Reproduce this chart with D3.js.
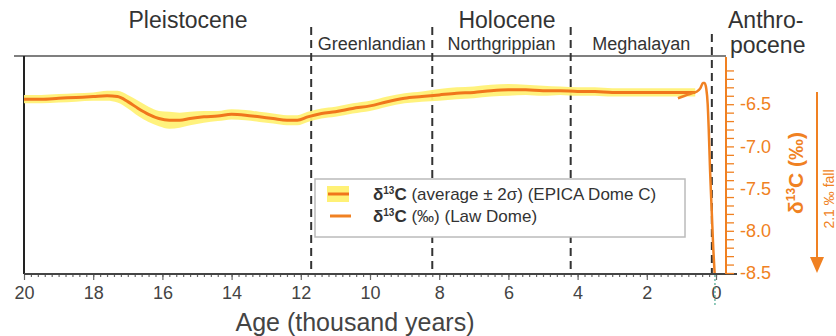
<!DOCTYPE html>
<meta charset="utf-8">
<style>
body { margin: 0; background: #fff; }
svg { font-family: "Liberation Sans", Arial, sans-serif; }
</style>
<body>
<script src="https://cdn.jsdelivr.net/npm/d3@7"></script>
<script>
// EPICA Dome C d13C, average and 2 sigma half width (permil)
var epicaAge = [20, 19.5, 19, 18.5, 18, 17.6, 17.3, 17, 16.7, 16.4, 16.1, 15.8, 15.5, 15.2, 14.8, 14.4, 14, 13.6, 13.2, 12.8, 12.4, 12.1, 11.8, 11.4, 11, 10.5, 10, 9.5, 9, 8.5, 8, 7.5, 7, 6.5, 6, 5.5, 5, 4.5, 4, 3.5, 3, 2.5, 2, 1.5, 1, 0.6];
var epicaMean = [-6.44, -6.44, -6.43, -6.42, -6.41, -6.40, -6.41, -6.47, -6.55, -6.62, -6.67, -6.69, -6.69, -6.67, -6.65, -6.64, -6.62, -6.63, -6.65, -6.67, -6.69, -6.69, -6.65, -6.61, -6.59, -6.55, -6.52, -6.47, -6.43, -6.41, -6.39, -6.37, -6.36, -6.34, -6.33, -6.33, -6.34, -6.34, -6.35, -6.35, -6.36, -6.36, -6.36, -6.36, -6.36, -6.36];
var epicaSigma = [0.05, 0.05, 0.05, 0.05, 0.05, 0.06, 0.07, 0.08, 0.09, 0.09, 0.09, 0.1, 0.09, 0.08, 0.07, 0.06, 0.06, 0.06, 0.06, 0.06, 0.06, 0.06, 0.06, 0.06, 0.06, 0.06, 0.06, 0.06, 0.06, 0.06, 0.07, 0.07, 0.07, 0.07, 0.07, 0.06, 0.06, 0.05, 0.05, 0.05, 0.05, 0.05, 0.05, 0.05, 0.05, 0.05];

// Law Dome d13C
var lawAge = [1.1, 0.9, 0.7, 0.55, 0.45, 0.38, 0.33, 0.28, 0.24, 0.21, 0.17, 0.12, 0.08, 0.04];
var lawVal = [-6.43, -6.40, -6.37, -6.35, -6.31, -6.25, -6.25, -6.32, -6.5, -6.8, -7.3, -7.8, -8.2, -8.5];

// boundaries (thousand years)
var boundaries = [11.7, 8.2, 4.2, 0.12];
var stageNames = ["Greenlandian", "Northgrippian", "Meghalayan"];
var xTickLabels = [20, 18, 16, 14, 12, 10, 8, 6, 4, 2, 0];
var yTickLabels = [-6.5, -7.0, -7.5, -8.0, -8.5];

var orange = "#f08122", grey = "#444";

var svg = d3.select("body").append("svg")
    .attr("width", 836)
    .attr("height", 336);

var x = d3.scaleLinear().domain([20, 0]).range([24, 716]);
var y = d3.scaleLinear().domain([-8.5, -6]).range([273, 62]);

var epica = epicaAge.map(function(a, i) {
  return {age: a, mean: epicaMean[i], s: epicaSigma[i]};
});
var law = lawAge.map(function(a, i) { return {age: a, v: lawVal[i]}; });

// frame: top line, left axis
svg.append("line").attr("x1", 14).attr("x2", 726).attr("y1", 56).attr("y2", 56)
  .style("stroke", "#555").style("stroke-width", 1.5);
svg.append("line").attr("x1", 24).attr("x2", 24).attr("y1", 56).attr("y2", 274)
  .style("stroke", "#222").style("stroke-width", 2);

// dashed boundaries
svg.selectAll(".bound").data(boundaries).enter().append("line")
  .attr("class", "bound")
  .attr("x1", function(d) { return x(d); })
  .attr("x2", function(d) { return x(d); })
  .attr("y1", function(d, i) { return i == 3 ? 34 : 27; })
  .attr("y2", 274)
  .style("stroke", "#333").style("stroke-width", 2)
  .style("stroke-dasharray", "8,5");

// band
var area = d3.area()
  .x(function(d) { return x(d.age); })
  .y0(function(d) { return y(d.mean - d.s); })
  .y1(function(d) { return y(d.mean + d.s); })
  .curve(d3.curveMonotoneX);
svg.append("path").datum(epica)
  .attr("d", area)
  .style("fill", "#fff176").style("opacity", 0.95);

var meanLine = d3.line()
  .x(function(d) { return x(d.age); })
  .y(function(d) { return y(d.mean); })
  .curve(d3.curveMonotoneX);
svg.append("path").datum(epica)
  .attr("d", meanLine)
  .style("fill", "none").style("stroke", "#f0761c").style("stroke-width", 3);

var lawLine = d3.line()
  .x(function(d) { return x(d.age); })
  .y(function(d) { return y(d.v); })
  .curve(d3.curveMonotoneX);
svg.append("path").datum(law)
  .attr("d", lawLine)
  .style("fill", "none").style("stroke", orange).style("stroke-width", 2.5);

// bottom axis: minor ticks then labelled ticks
var minor = d3.range(0, 100).map(function(i) { return +(i * 0.2).toFixed(1); });
var gMinor = svg.append("g").attr("transform", "translate(0,274)")
  .call(d3.axisBottom(x).tickValues(minor).tickSize(3).tickFormat(""));
var gMajor = svg.append("g").attr("transform", "translate(0,274)")
  .call(d3.axisBottom(x).tickValues(xTickLabels).tickSize(6).tickPadding(6));
[gMinor, gMajor].forEach(function(g) {
  g.select(".domain").remove();
  g.selectAll("line").style("stroke", "#666").style("stroke-width", 1.2);
});
gMajor.selectAll("text").style("font-size", "18px").style("fill", grey)
  .style("font-family", "Liberation Sans, Arial, sans-serif");
svg.append("line").attr("x1", 24).attr("x2", 737).attr("y1", 274).attr("y2", 274)
  .style("stroke", "#444").style("stroke-width", 2);

// small dotted marker below zero
svg.append("line").attr("x1", x(0.03)).attr("x2", x(0.03)).attr("y1", 275).attr("y2", 306)
  .style("stroke", "#4aa890").style("stroke-width", 1.2).style("stroke-dasharray", "2,2");

svg.append("text").attr("x", 355).attr("y", 331)
  .style("text-anchor", "middle").style("font-size", "25px").style("fill", grey)
  .text("Age (thousand years)");

// right axis
var yMinor = d3.range(0, 25).map(function(i) { return +(-8.5 + i * 0.1).toFixed(1); });
var gy = svg.append("g").attr("transform", "translate(726,0)")
  .call(d3.axisRight(y).tickValues(yMinor).tickSize(8).tickPadding(6)
    .tickFormat(function(d) { return yTickLabels.indexOf(d) >= 0 ? d3.format(".1f")(d).replace("\u2212", "-") : ""; }));
gy.select(".domain").remove();
gy.selectAll("line").style("stroke", orange).style("stroke-width", 1.3);
gy.selectAll("text").style("font-size", "18px").style("fill", orange)
  .style("font-family", "Liberation Sans, Arial, sans-serif");
svg.append("line").attr("x1", 726).attr("x2", 726).attr("y1", 57).attr("y2", 274)
  .style("stroke", orange).style("stroke-width", 2);

var yt = svg.append("text")
  .attr("transform", "translate(803,173) rotate(-90)")
  .style("text-anchor", "middle").style("font-size", "21px").style("font-weight", "bold")
  .style("fill", orange);
yt.append("tspan").text("\u03b4");
yt.append("tspan").attr("dy", -8).style("font-size", "12px").text("13");
yt.append("tspan").attr("dy", 8).text("C (\u2030)");

// fall arrow
svg.append("line").attr("x1", 817).attr("x2", 817).attr("y1", 92).attr("y2", 260)
  .style("stroke", orange).style("stroke-width", 2);
svg.append("path").attr("d", "M810,257 L824,257 L817,273 Z").style("fill", orange);
svg.append("text")
  .attr("transform", "translate(834,199) rotate(-90)")
  .style("text-anchor", "middle").style("font-size", "14px").style("fill", orange)
  .text("2.1 \u2030 fall");

// epoch names
var epochs = [
  {name: "Pleistocene", x: 188, y: 28},
  {name: "Holocene", x: 507, y: 28}
];
svg.selectAll(".epoch").data(epochs).enter().append("text")
  .attr("x", function(d) { return d.x; }).attr("y", function(d) { return d.y; })
  .style("text-anchor", "middle").style("font-size", "23px").style("fill", "#333")
  .text(function(d) { return d.name; });
svg.append("text").attr("x", 728).attr("y", 28)
  .style("font-size", "23px").style("fill", "#333").text("Anthro-");
svg.append("text").attr("x", 730).attr("y", 53)
  .style("font-size", "23px").style("fill", "#333").text("pocene");

svg.selectAll(".stage").data(stageNames).enter().append("text")
  .attr("x", function(d, i) { return (x(boundaries[i]) + x(boundaries[i + 1])) / 2; })
  .attr("y", 50)
  .style("text-anchor", "middle").style("font-size", "18px").style("fill", "#333")
  .text(function(d) { return d; });

// legend
var lg = svg.append("g");
lg.append("rect").attr("x", 315).attr("y", 179).attr("width", 370).attr("height", 58)
  .style("fill", "#fff").style("stroke", "#bbb").style("stroke-width", 1.5);
lg.append("rect").attr("x", 327).attr("y", 186).attr("width", 22).attr("height", 16)
  .style("fill", "#fff176");
lg.append("line").attr("x1", 328).attr("x2", 349).attr("y1", 194).attr("y2", 194)
  .style("stroke", "#f0761c").style("stroke-width", 3);
lg.append("line").attr("x1", 330).attr("x2", 351).attr("y1", 216).attr("y2", 216)
  .style("stroke", orange).style("stroke-width", 3);
var legendText = ["(average \u00b1 2\u03c3) (EPICA Dome C)", "(\u2030) (Law Dome)"];
legendText.forEach(function(t, i) {
  var tx = lg.append("text").attr("x", 373).attr("y", 200 + i * 22)
    .style("font-size", "17px").style("fill", "#333");
  tx.append("tspan").style("font-weight", "bold").text("\u03b4");
  tx.append("tspan").attr("dy", -6).style("font-size", "10px").style("font-weight", "bold").text("13");
  tx.append("tspan").attr("dy", 6).style("font-weight", "bold").text("C ");
  tx.append("tspan").text(t);
});
</script>
</body>
